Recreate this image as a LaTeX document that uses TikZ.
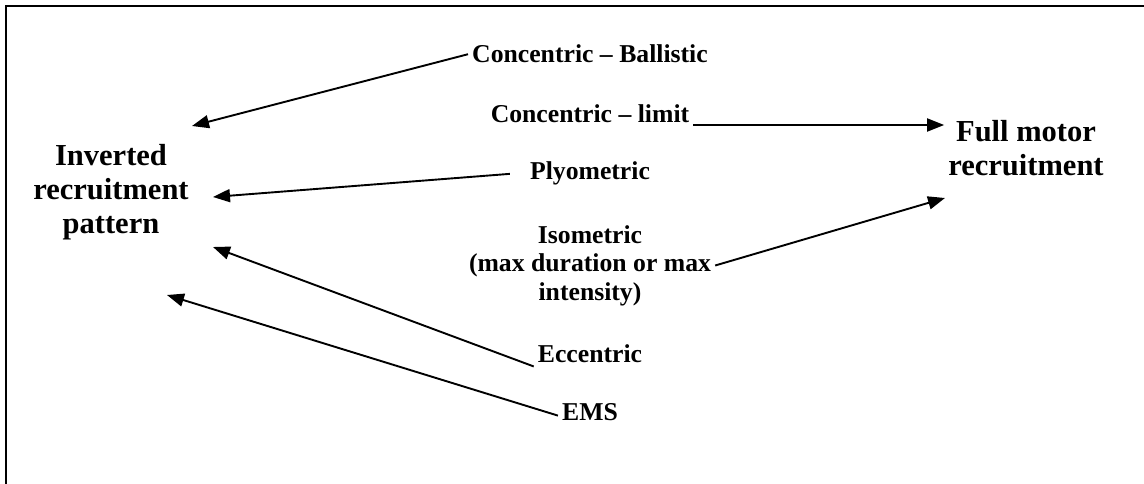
\documentclass[tikz,border=0pt]{standalone}
\usepackage{fontspec}
\setmainfont{Liberation Serif}
\usetikzlibrary{arrows.meta}

\begin{document}
\begin{tikzpicture}[
    x=1pt, y=-1pt,
    outcome/.style={align=center, inner sep=4pt, font=\fontsize{30.5}{34}\selectfont\bfseries},
    mode/.style={align=center, inner sep=4pt, font=\fontsize{25.7}{28.5}\selectfont\bfseries},
    arrow/.style={line width=1.9pt,->,>={Triangle[length=17pt,width=13pt]}}
]
    \useasboundingbox (0,0) rectangle (1144,484);
    % Frame (cut off at right and bottom)
    \draw [line width=2.2pt] (1144,6) -| (6,484);

    % Outcomes
    \node [outcome] (inv) at (111,192) {Inverted\\recruitment\\pattern};
    \node [outcome] (full) at (1026,148) {Full motor\\recruitment};

    % Contraction types
    \node [mode, anchor=base] (ball) at (590,63) {Concentric – Ballistic};
    \node [mode, anchor=base] (limit) at (590,123) {Concentric – limit};
    \node [mode, anchor=base] (ply) at (590,180) {Plyometric};
    \node [mode] (iso) at (590,265.5) {Isometric\\(max duration or max\\intensity)};
    \node [mode, anchor=base] (ecc) at (590,362) {Eccentric};
    \node [mode, anchor=base] (ems) at (590,420) {EMS};

    % Arrow tips
    \coordinate (tipball) at (192,126);
    \coordinate (tipply) at (213,197);
    \coordinate (tipecc) at (213,247);
    \coordinate (tipems) at (167,295);
    \coordinate (tipiso) at (945,198);

    % Arrows
    \draw [arrow] (ball.west) -- (tipball);
    \draw [arrow] ([yshift=-2pt]limit.base east) -- ([yshift=-2pt]limit.base east -| full.west);
    \draw [arrow] ([xshift=-16pt]ply.west) -- (tipply);
    \draw [arrow] (iso.east) -- (tipiso);
    \draw [arrow] (ecc.south west) -- (tipecc);
    \draw [arrow] ([yshift=-4pt]ems.west) -- (tipems);
\end{tikzpicture}
\end{document}
